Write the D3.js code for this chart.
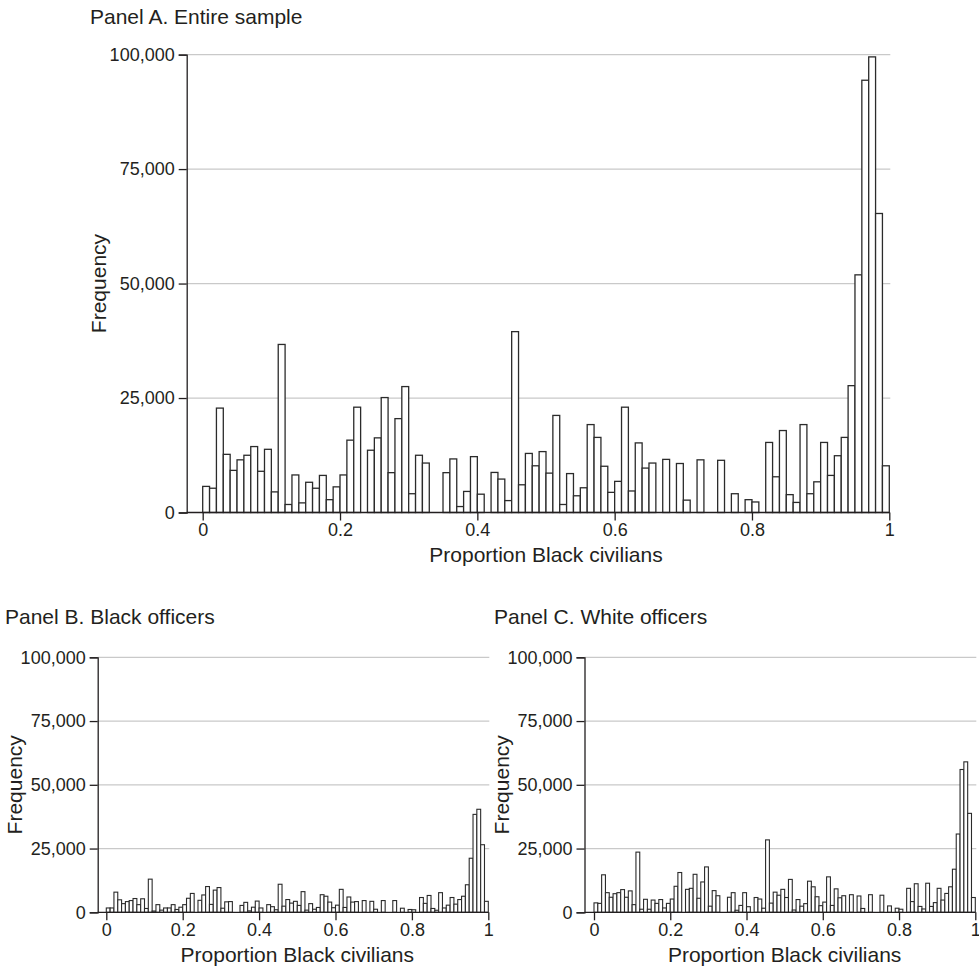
<!DOCTYPE html>
<html>
<head>
<meta charset="utf-8">
<script src="https://cdn.jsdelivr.net/npm/d3@7"></script>
<style>
  body { margin: 0; background: #fff; }
  text { font-family: "Liberation Sans", Arial, sans-serif; fill: #231f20; }
</style>
</head>
<body>
<svg width="979" height="967"></svg>
<script>
// frequencies per 0.01-wide bin of proportion Black civilians (bins 0.00-0.01 ... 0.99-1.00)
var entireSample = [
  5700, 5300, 22800, 12700, 9200, 11500, 12500, 14400, 9000, 13800,
  4500, 36700, 1750, 8200, 2100, 6600, 5300, 8100, 2800, 5600,
  8200, 15800, 23000, 0, 13600, 16300, 25100, 8700, 20500, 27500,
  4100, 12500, 10800, 0, 0, 8700, 11700, 1300, 4600, 12200,
  4000, 0, 8750, 7300, 2600, 39500, 6050, 12900, 10200, 13300,
  8600, 21200, 1750, 8500, 3650, 5400, 19200, 16400, 10100, 4400,
  6800, 23000, 4700, 15200, 9700, 10800, 0, 11600, 0, 10700,
  2700, 0, 11500, 0, 0, 11400, 0, 4100, 0, 2800,
  2300, 0, 15300, 7800, 17900, 3900, 2200, 19200, 4100, 6700,
  15300, 8100, 12400, 16400, 27700, 51900, 94400, 99500, 65300, 10200
];
var blackOfficers = [
  1700, 1700, 7900, 4900, 3400, 4200, 4600, 5400, 3000, 5300,
  1500, 13000, 500, 3000, 850, 1700, 1700, 3000, 1100, 2000,
  3000, 5500, 7400, 0, 4700, 6800, 10100, 3100, 8700, 9700,
  1600, 4100, 4200, 0, 0, 2700, 3900, 550, 2000, 4400,
  1700, 0, 3000, 2200, 1000, 11000, 2400, 5000, 3600, 4300,
  2700, 8100, 850, 3400, 1200, 1900, 6900, 6300, 4000, 1800,
  2800, 9000, 1900, 6000, 4000, 4200, 0, 4600, 0, 4300,
  1200, 0, 4600, 0, 0, 4600, 0, 1600, 0, 1100,
  1000, 0, 5800, 3500, 6600, 1500, 800, 7700, 1700, 2800,
  5800, 3200, 5000, 6300, 10800, 21200, 38400, 40400, 26500, 4300
];
var whiteOfficers = [
  3700, 3500, 14700, 7700, 5900, 7300, 7700, 8900, 5900, 8400,
  3000, 23600, 1200, 5100, 1200, 4800, 3500, 5000, 1700, 3500,
  5200, 10200, 15600, 0, 9000, 9400, 14900, 5500, 11900, 17800,
  2400, 8500, 6500, 0, 0, 5900, 7700, 800, 2700, 7700,
  2200, 0, 5800, 5200, 1600, 28400, 3600, 7900, 6700, 9000,
  5800, 12900, 900, 5000, 2400, 3400, 12200, 10000, 6100, 2600,
  4000, 13900, 2700, 9200, 5700, 6500, 0, 6900, 0, 6400,
  1500, 0, 6900, 0, 0, 6700, 0, 2500, 0, 1600,
  1200, 0, 9400, 4200, 11200, 2300, 1300, 11400, 2300, 3800,
  9400, 4800, 7400, 10000, 16900, 30700, 56000, 59000, 38800, 5800
];
var binStarts = d3.range(100).map(function(i) { return i / 100; });
var binWidth = 0.01;
var xTicks = [0, 0.2, 0.4, 0.6, 0.8, 1];
var yTicks = [0, 25000, 50000, 75000, 100000];
var panelTitles = ["Panel A. Entire sample", "Panel B. Black officers", "Panel C. White officers"];
var xTitle = "Proportion Black civilians",
    yTitle = "Frequency";

var svg = d3.select("svg");
var ink = "#231f20";

function drawPanel(values, title, box) {
  var xScale = d3.scaleLinear().domain([0, 1]).range([box.x0, box.x1]),
      yScale = d3.scaleLinear().domain([0, 100000]).range([box.bottom, box.top]);

  var g = svg.append("g");

  // light grid lines
  g.selectAll(".grid")
   .data(yTicks.filter(function(d) { return d > 0; }))
   .enter().append("line")
   .attr("class", "grid")
   .attr("x1", box.axis)
   .attr("x2", box.x1 + 1)
   .attr("y1", function(d) { return yScale(d); })
   .attr("y2", function(d) { return yScale(d); })
   .attr("stroke", "#c9c9c9")
   .attr("stroke-width", 1.2);

  var bins = binStarts.map(function(s, i) { return { start: s, value: values[i] }; })
                      .filter(function(d) { return d.value > 0; });

  g.selectAll(".bar")
   .data(bins)
   .enter().append("rect")
   .attr("class", "bar")
   .attr("x", function(d) { return xScale(d.start); })
   .attr("y", function(d) { return yScale(d.value); })
   .attr("width", function(d) { return xScale(d.start + binWidth) - xScale(d.start); })
   .attr("height", function(d) { return yScale(0) - yScale(d.value); })
   .attr("fill", "#fff")
   .attr("stroke", "#2b2b2b")
   .attr("stroke-width", box.stroke);

  // baseline from the y axis to 1
  g.append("line")
   .attr("x1", box.axis)
   .attr("x2", box.x1)
   .attr("y1", yScale(0))
   .attr("y2", yScale(0))
   .attr("stroke", ink)
   .attr("stroke-width", 1.3);

  g.append("g")
   .attr("transform", "translate(" + box.axis + ",0)")
   .attr("color", ink)
   .call(d3.axisLeft(yScale).tickValues(yTicks).tickSize(8).tickPadding(4).tickFormat(d3.format(",")))
   .call(function(a) { a.selectAll("path, line").attr("stroke-width", 1.3); })
   .call(function(a) { a.selectAll("text").attr("font-size", 18).attr("font-family", null); });

  g.append("g")
   .attr("transform", "translate(0," + yScale(0) + ")")
   .attr("color", ink)
   .call(d3.axisBottom(xScale).tickValues(xTicks).tickSize(8).tickPadding(3).tickFormat(d3.format("")))
   .call(function(a) { a.select(".domain").remove(); })
   .call(function(a) { a.selectAll("line").attr("stroke-width", 1.3); })
   .call(function(a) { a.selectAll("text").attr("font-size", 18).attr("font-family", null); });

  g.append("text")
   .attr("x", (box.x0 + box.x1) / 2)
   .attr("y", box.bottom + 49.5)
   .attr("text-anchor", "middle")
   .attr("font-size", 21)
   .text(xTitle);

  g.append("text")
   .attr("transform", "translate(" + box.freqX + "," + (box.top + box.bottom) / 2 + ") rotate(-90)")
   .attr("text-anchor", "middle")
   .attr("font-size", 21)
   .text(yTitle);

  g.append("text")
   .attr("x", box.titleX)
   .attr("y", box.titleY)
   .attr("font-size", 21)
   .text(title);
}

drawPanel(entireSample, panelTitles[0],
  { axis: 186.7, x0: 202.7, x1: 889.3, top: 54.6, bottom: 512.5, freqX: 106, titleX: 90, titleY: 23.5, stroke: 1.3 });
drawPanel(blackOfficers, panelTitles[1],
  { axis: 97.7, x0: 106.3, x1: 488.3, top: 657.3, bottom: 912.3, freqX: 22, titleX: 5, titleY: 623.5, stroke: 1.1 });
drawPanel(whiteOfficers, panelTitles[2],
  { axis: 584.5, x0: 594, x1: 975.3, top: 657.3, bottom: 912.3, freqX: 509, titleX: 494, titleY: 623.5, stroke: 1.1 });
</script>
</body>
</html>
